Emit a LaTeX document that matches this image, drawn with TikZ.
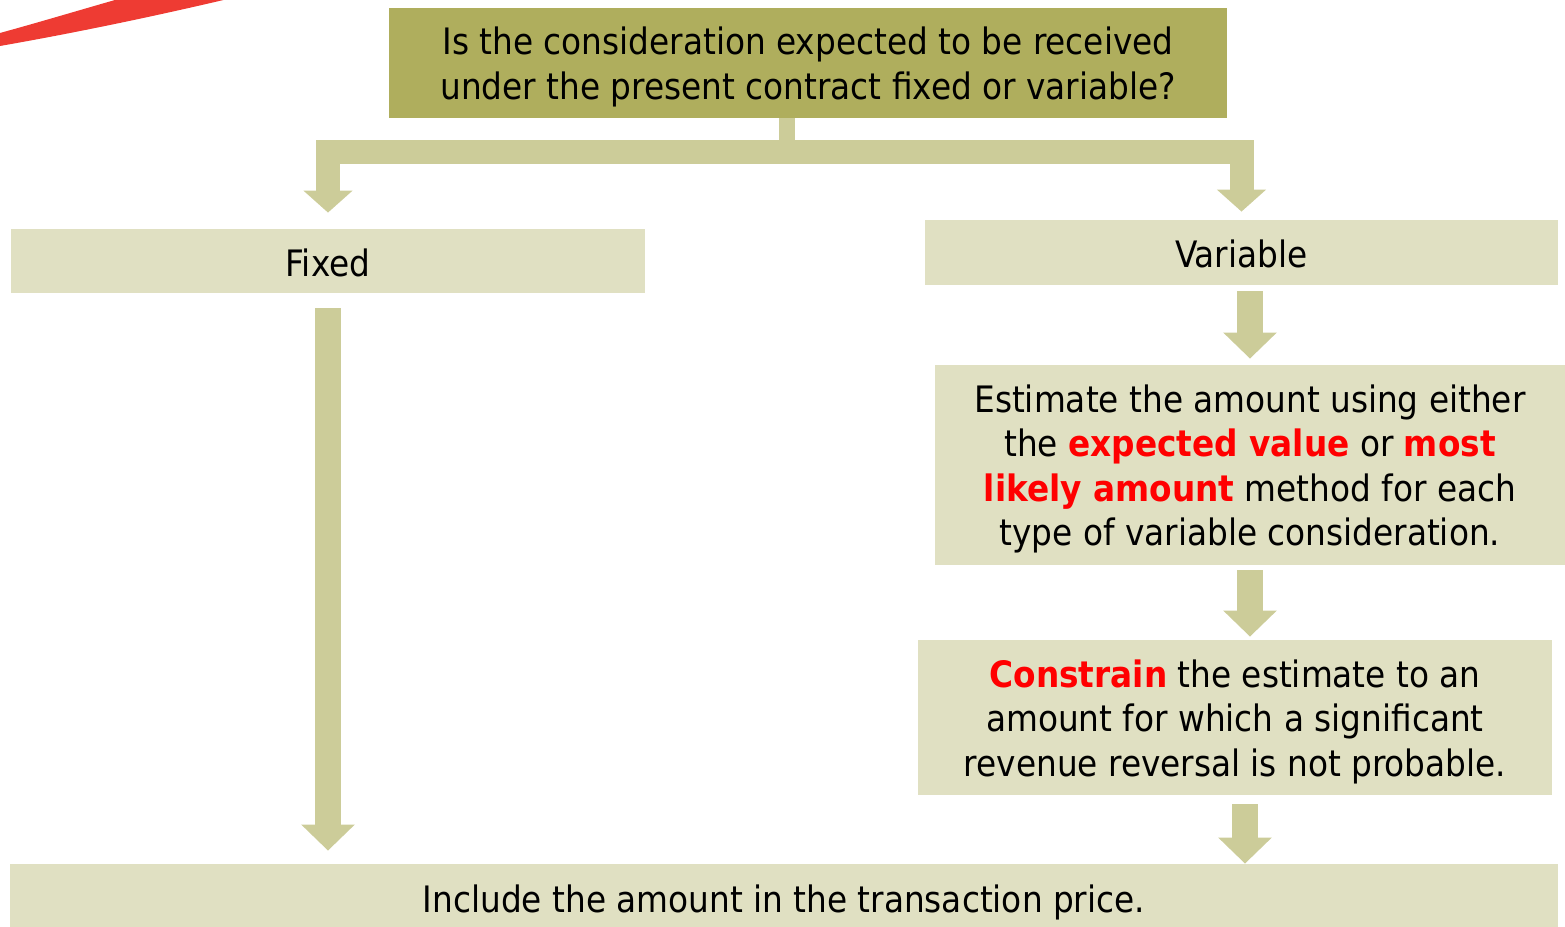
\documentclass[tikz,border=0pt]{standalone}
\usepackage{fontspec}
\setmainfont{DejaVu Sans Condensed}
\usetikzlibrary{arrows.meta}

\definecolor{boxolive}{HTML}{AFAE5D}
\definecolor{boxlight}{HTML}{E0E0C2}
\definecolor{arrowtan}{HTML}{CCCC99}
\definecolor{hired}{HTML}{FF0000}
\definecolor{swooshred}{HTML}{EE3B33}
\newcommand{\hot}[1]{\textcolor{hired}{\textbf{#1}}}
\newcommand{\topstrut}{\rule{0pt}{18pt}}

\begin{document}
\begin{tikzpicture}[x=0.5pt, y=0.5pt]
% --- Global Styles ---
\tikzstyle{box} = [rectangle, fill=boxlight, inner sep=0pt, align=center, font=\fontsize{18.2}{22.25}\selectfont, execute at begin node={\rule{0pt}{15.6pt}}]
\tikzstyle{qbox} = [box, fill=boxolive]
\tikzstyle{flow} = [draw=arrowtan, line width=13pt, -{Triangle[width=26pt, length=13pt]}]
\tikzstyle{branch} = [draw=arrowtan, line width=12pt, -{Triangle[width=24pt, length=11pt]}]

% --- Frame (page is 1565 x 927 units) ---
\clip (0,0) rectangle (1565,927);

% Red swoosh in the corner
\fill[swooshred] (0,881) .. controls (80,895) and (160,912) .. (232,929)
  -- (122,929) .. controls (80,917) and (40,905) .. (0,894) -- cycle;

% ==========================================
% Question and the two answers
% ==========================================
\node (q) [qbox, minimum width=419pt, minimum height=55pt] at (808,864)
  {\topstrut Is the consideration expected to be received\\under the present contract fixed or variable?};

\node (fixed) [box, minimum width=317pt, minimum height=32pt] at (328,666) {Fixed};
\node (variable) [box, minimum width=316.5pt, minimum height=32.5pt] at (1241.5,674.5) {Variable};

% Split point under the question
\coordinate (split) at (787,775);
\draw[arrowtan, line width=8pt] (q.south -| split) -- (split);
\draw[branch, shorten >=8pt] ([xshift=3pt]split) -| (fixed.north);
\draw[branch, shorten >=4pt] ([xshift=-3pt]split) -| (variable.north);

% ==========================================
% Variable side: estimate, then constrain
% ==========================================
\node (estimate) [box, minimum width=315pt, minimum height=100pt] at (1250,462)
  {\topstrut Estimate the amount using either\\the \hot{expected value} or \hot{most}\\\hot{likely amount} method for each\\type of variable consideration.};

\node (constrain) [box, minimum width=317pt, minimum height=77.5pt] at (1235,209.5)
  {\topstrut\hot{Constrain} the estimate to an\\amount for which a significant\\revenue reversal is not probable.};

% ==========================================
% Bottom: transaction price
% ==========================================
\node (include) [box, minimum width=774pt, minimum height=36.5pt] at (784,26.5)
  {Include the amount in the transaction price.};

% Flow arrows
\draw[flow, shorten <=3pt, shorten >=3pt] (variable.south -| estimate.north) -- (estimate.north);
\draw[flow, shorten <=2.5pt, shorten >=1.5pt] (estimate.south) -- (estimate.south |- constrain.north);
\draw[flow, shorten <=4.5pt] ([xshift=-2.5pt]estimate.south |- constrain.south) -- ([xshift=-2.5pt]estimate.south |- include.north);
\draw[flow, shorten <=7.5pt, shorten >=6.5pt] (fixed.south) -- (fixed.south |- include.north);

\end{tikzpicture}
\end{document}
